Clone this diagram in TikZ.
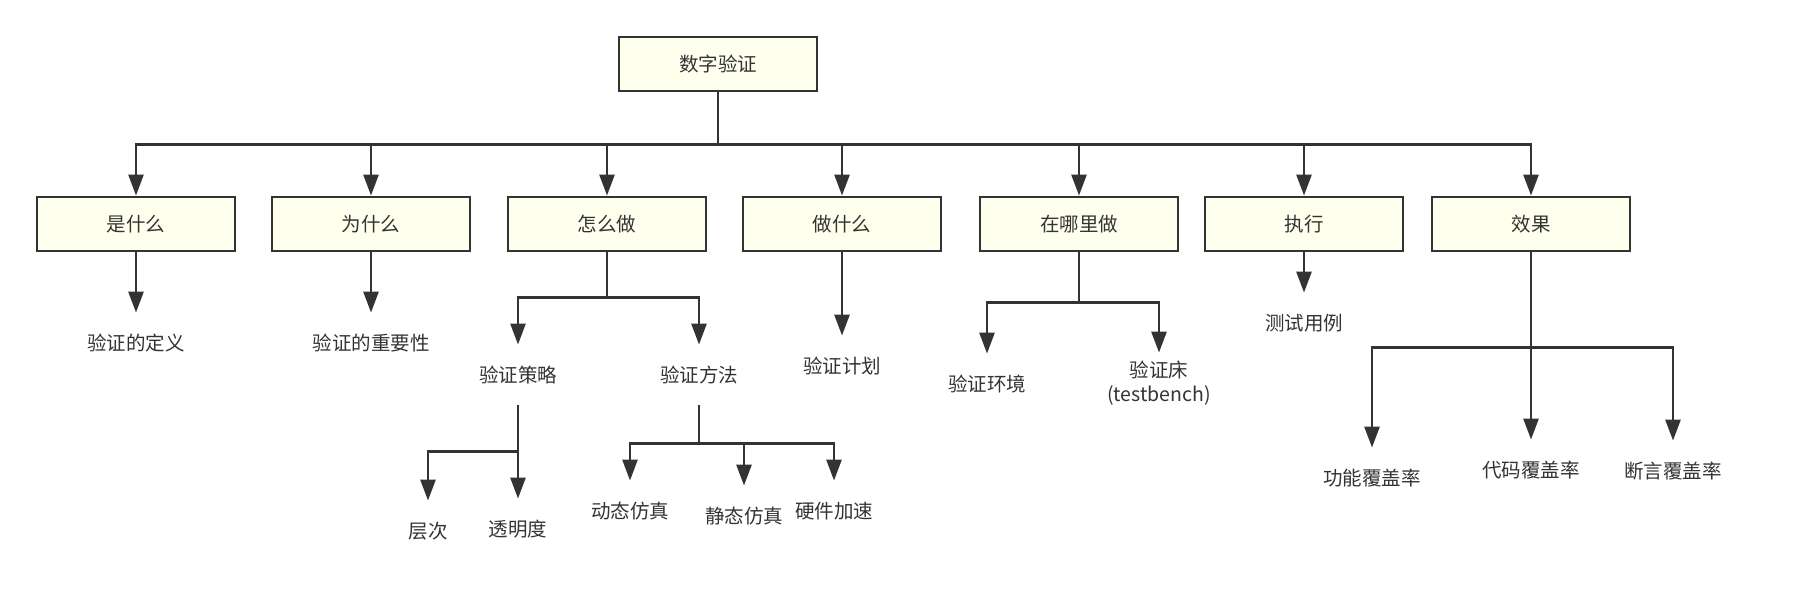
\documentclass[tikz,border=0pt]{standalone}
\usepackage{fontspec}
\usepackage{xcolor}
\usepackage{tikz}
\usetikzlibrary{arrows.meta}
\newfontfamily\cjk{Noto Sans CJK SC}
\definecolor{linegray}{HTML}{333333}
\definecolor{boxfill}{HTML}{FFFFEE}

\begin{document}
\begin{tikzpicture}[
      x=0.5pt, y=-0.5pt,
      box/.style={rectangle, draw=linegray, fill=boxfill, line width=1.4pt, minimum width=99pt, minimum height=27pt,
                  align=center, font=\cjk\fontsize{9.75}{12}\selectfont, text=linegray, inner sep=2pt},
      leaf/.style={inner sep=0pt, minimum height=30pt, align=center,
                   font=\cjk\fontsize{9.75}{12}\selectfont, text=linegray},
      arrow/.style={-{Triangle[length=10.5pt,width=7.5pt]}, draw=linegray, line width=1.3pt},
    ]
    \useasboundingbox (0,0) rectangle (1804,597);

    \node[box] (root)   at (718,64)   {数字验证};

    \node[box] (what)   at (136,224)  {是什么};
    \node[box] (why)    at (371,224)  {为什么};
    \node[box] (how)    at (607,224)  {怎么做};
    \node[box] (todo)   at (842,224)  {做什么};
    \node[box] (where)  at (1079,224) {在哪里做};
    \node[box] (run)    at (1304,224) {执行};
    \node[box] (effect) at (1531,224) {效果};

    \node[leaf] (defn)       at (136,343)  {验证的定义};
    \node[leaf] (importance) at (371,343)  {验证的重要性};
    \node[leaf] (strategy)   at (518,375)  {验证策略};
    \node[leaf] (method)     at (699,375)  {验证方法};
    \node[leaf] (plan)       at (842,366)  {验证计划};
    \node[leaf] (layer)      at (428,531)  {层次};
    \node[leaf] (transp)     at (518,529)  {透明度};
    \node[leaf] (dynsim)     at (630,511)  {动态仿真};
    \node[leaf] (statsim)    at (744,516)  {静态仿真};
    \node[leaf] (hwacc)      at (834,511)  {硬件加速};
    \node[leaf] (env)        at (987,384)  {验证环境};
    \node[leaf] (tbench)     at (1159,383) {验证床\\(testbench)};
    \node[leaf] (tcase)      at (1304,323) {测试用例};
    \node[leaf] (funccov)    at (1372,478) {功能覆盖率};
    \node[leaf] (codecov)    at (1531,470) {代码覆盖率};
    \node[leaf] (assertcov)  at (1673,471) {断言覆盖率};

    % root to first level
    \foreach \kid in {what,why,how,todo,where,run,effect}
      \draw[arrow] (root.south) -- ++(0,52) -| (\kid.north);

    \draw[arrow] (what) -- (defn);
    \draw[arrow] (why) -- (importance);
    \draw[arrow] (how.south) -- ++(0,45) -| (strategy.north);
    \draw[arrow] (how.south) -- ++(0,45) -| (method.north);
    \draw[arrow] (todo) -- (plan);
    \draw[arrow] (strategy.south) -- ++(0,46) -| (layer.north);
    \draw[arrow] (strategy) -- (transp);
    \draw[arrow] (method.south) -- ++(0,38) -| (dynsim.north);
    \draw[arrow] (method.south) -- ++(0,38) -| (statsim.north);
    \draw[arrow] (method.south) -- ++(0,38) -| (hwacc.north);
    \draw[arrow] (where.south) -- ++(0,50) -| (env.north);
    \draw[arrow] (where.south) -- ++(0,50) -| (tbench.north);
    \draw[arrow] (run) -- (tcase);
    \draw[arrow] (effect.south) -- ++(0,95) -| (funccov.north);
    \draw[arrow] (effect) -- (codecov);
    \draw[arrow] (effect.south) -- ++(0,95) -| (assertcov.north);
  \end{tikzpicture}
\end{document}
